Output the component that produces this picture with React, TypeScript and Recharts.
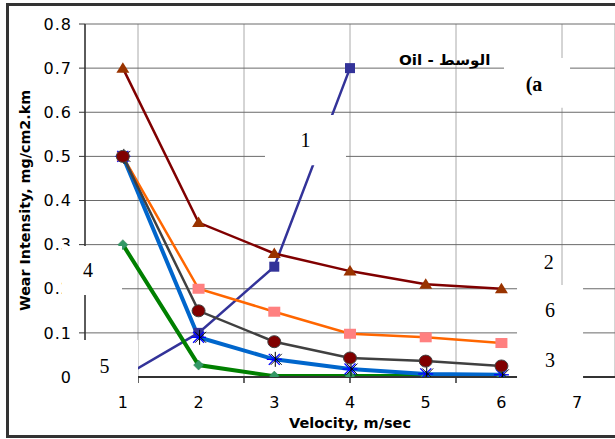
import React from 'react';
import { ComposedChart, Line, XAxis, YAxis, CartesianGrid, ReferenceArea } from 'recharts';

const velocity = [1, 2, 3, 4, 5, 6];
const purpleSeries = [0, 0.1, 0.25, 0.7, null, null];
const darkRedSeries = [0.7, 0.35, 0.28, 0.24, 0.21, 0.2];
const orangeSeries = [0.5, 0.2, 0.148, 0.098, 0.09, 0.077];
const greenSeries = [0.3, 0.027, 0.002, 0.002, 0.002, 0.002];
const blueSeries = [0.5, 0.09, 0.04, 0.018, 0.007, 0.005];
const graySeries = [0.5, 0.15, 0.08, 0.043, 0.036, 0.025];

const xLabelTicks = [1, 2, 3, 4, 5, 6, 7];
const xGridTicks = [0.5, 1.5, 2.5, 3.5, 4.5, 5.5, 6.5, 7.5];
const yTicks = [0, 0.1, 0.2, 0.3, 0.4, 0.5, 0.6, 0.7, 0.8];

const data = velocity.map((x, i) => ({
  x,
  purple: purpleSeries[i],
  darkred: darkRedSeries[i],
  orange: orangeSeries[i],
  green: greenSeries[i],
  blue: blueSeries[i],
  gray: graySeries[i],
}));

const SANS = 'DejaVu Sans';
const SERIF = 'Liberation Serif';

const ok = (p: any) => p && p.cx != null && p.cy != null && !isNaN(p.cx) && !isNaN(p.cy);

const squareDot = (fill: string, w: number, h: number) => (p: any) =>
  ok(p) ? <rect key={`s${p.index}`} x={p.cx - w / 2} y={p.cy - h / 2} width={w} height={h} fill={fill} /> : <g key={`e${p.index}`} />;

const triDot = (p: any) =>
  ok(p) ? (
    <polygon key={`t${p.index}`} points={`${p.cx},${p.cy - 6} ${p.cx - 6.5},${p.cy + 4.5} ${p.cx + 6.5},${p.cy + 4.5}`} fill="#993300" />
  ) : <g key={`e${p.index}`} />;

const circleDot = (p: any) =>
  ok(p) ? <ellipse key={`c${p.index}`} cx={p.cx} cy={p.cy} rx={6.5} ry={6} fill="#800000" stroke="#404040" strokeWidth={1} /> : <g key={`e${p.index}`} />;

const diamondDot = (p: any) =>
  ok(p) ? (
    <polygon key={`d${p.index}`} points={`${p.cx},${p.cy - 5} ${p.cx + 5},${p.cy} ${p.cx},${p.cy + 5} ${p.cx - 5},${p.cy}`} fill="#339966" stroke="#2a7a50" strokeWidth={0.5} />
  ) : <g key={`e${p.index}`} />;

const starDot = (p: any) => {
  if (!ok(p)) return <g key={`e${p.index}`} />;
  const { cx, cy } = p;
  const r = 7.5;
  const d = 5.5;
  return (
    <g key={`a${p.index}`}>
      <line x1={cx - d} y1={cy - d} x2={cx + d} y2={cy + d} stroke="#0000ff" strokeWidth={1.3} />
      <line x1={cx - d} y1={cy + d} x2={cx + d} y2={cy - d} stroke="#0000ff" strokeWidth={1.3} />
      <line x1={cx - r} y1={cy} x2={cx + r} y2={cy} stroke="#0000ff" strokeWidth={1.3} />
      <line x1={cx + 1} y1={cy - r} x2={cx + 1} y2={cy + r} stroke="#000" strokeWidth={1} />
      <line x1={cx - d + 2} y1={cy - d} x2={cx + d + 2} y2={cy + d} stroke="#000" strokeWidth={0.9} />
      <line x1={cx - d + 2} y1={cy + d} x2={cx + d + 2} y2={cy - d} stroke="#000" strokeWidth={0.9} />
    </g>
  );
};

const emptyTick = (p: any) => <g key={`gt${p.index}`} />;

const boxText = (text: string, opts: { font?: string; size?: number; bold?: boolean; dx?: number; dy?: number; sx?: number } = {}) => (props: any) => {
  const vb = props.viewBox || { x: 0, y: 0, width: 0, height: 0 };
  const cx = vb.x + vb.width / 2 + (opts.dx || 0);
  const cy = vb.y + vb.height / 2 + (opts.dy || 0);
  return (
    <g transform={`translate(${cx},${cy}) scale(${opts.sx || 1},1)`}>
      <text
        x={0}
        y={0}
        textAnchor="middle"
        dominantBaseline="central"
        fontFamily={opts.font || SERIF}
        fontSize={opts.size || 20}
        fontWeight={opts.bold ? 'bold' : 'normal'}
        fill="#000"
      >
        {text}
      </text>
    </g>
  );
};

const yTitle = (props: any) => {
  const vb = props.viewBox || { x: 0, y: 0, width: 0, height: 0 };
  const x = vb.x + 25;
  const y = vb.y + vb.height / 2;
  return (
    <text x={x} y={y} transform={`rotate(-90, ${x}, ${y})`} textAnchor="middle" dominantBaseline="central" fontFamily={SANS} fontWeight="bold" fontSize={14.3} fill="#000">
      Wear Intensity, mg/cm2.km
    </text>
  );
};

export default function App() {
  return (
    <div style={{ position: 'relative', width: 615, height: 439, overflow: 'hidden', background: '#fff' }}>
      <style>{'body{margin:0;}'}</style>
      <ComposedChart width={615} height={439} data={data} margin={{ top: 24, right: 0, bottom: 0, left: 0 }}>
        <CartesianGrid xAxisId="grid" horizontal={false} vertical={true} stroke="#aaaaaa" strokeWidth={1} />
        <CartesianGrid xAxisId="grid" horizontal={true} vertical={false} stroke="#6a6a6a" strokeWidth={1} />
        <XAxis
          xAxisId="grid"
          type="number"
          domain={[0.5, 7.5]}
          ticks={xGridTicks}
          interval={0}
          allowDataOverflow
          tick={emptyTick}
          tickSize={6}
          tickLine={{ stroke: '#333', strokeWidth: 1.5 }}
          axisLine={{ stroke: '#333', strokeWidth: 2 }}
          height={2}
        />
        <XAxis
          xAxisId="main"
          dataKey="x"
          type="number"
          domain={[0.5, 7.5]}
          ticks={xLabelTicks}
          interval={0}
          allowDataOverflow
          axisLine={false}
          tickLine={false}
          tickSize={0}
          tickMargin={18}
          height={60}
          tick={{ fontFamily: SANS, fontSize: 16, fill: '#000' }}
          label={{ content: boxText('Velocity, m/sec', { font: SANS, size: 14.5, bold: true, dy: 14 }) }}
        />
        <YAxis
          type="number"
          domain={[0, 0.8]}
          ticks={yTicks}
          interval={0}
          allowDataOverflow
          width={85}
          tickSize={6}
          tickMargin={7}
          tickLine={{ stroke: '#333' }}
          axisLine={{ stroke: '#333', strokeWidth: 1.5 }}
          tick={{ fontFamily: SANS, fontSize: 16, fill: '#000', letterSpacing: 1 }}
          tickFormatter={(v: number) => (v === 0 ? '0' : v.toFixed(1))}
          label={{ content: yTitle }}
        />
        <Line xAxisId="main" dataKey="purple" stroke="#333399" strokeWidth={2.5} dot={squareDot('#333399', 10, 10)} isAnimationActive={false} connectNulls={false} />
        <Line xAxisId="main" dataKey="darkred" stroke="#800000" strokeWidth={2.5} dot={triDot} isAnimationActive={false} />
        <Line xAxisId="main" dataKey="orange" stroke="#ff6600" strokeWidth={2.5} dot={squareDot('#ff8080', 12, 10)} isAnimationActive={false} />
        <Line xAxisId="main" dataKey="green" stroke="#008000" strokeWidth={4} dot={diamondDot} isAnimationActive={false} />
        <Line xAxisId="main" dataKey="blue" stroke="#0066cc" strokeWidth={4} dot={starDot} isAnimationActive={false} />
        <Line xAxisId="main" dataKey="gray" stroke="#404040" strokeWidth={2.5} dot={circleDot} isAnimationActive={false} />

        <ReferenceArea xAxisId="main" x1={2.877} x2={3.947} y1={0.48} y2={0.594} fill="#fff" fillOpacity={1} stroke="none" ifOverflow="visible" zIndex={3000} label={{ content: boxText('1') }} />
        <ReferenceArea xAxisId="main" x1={6.034} x2={6.906} y1={0.61} y2={0.723} fill="#fff" fillOpacity={1} stroke="none" ifOverflow="visible" zIndex={3000} label={{ content: boxText('(a', { bold: true, size: 20, dx: -3, dy: 1 }) }} />
        <ReferenceArea xAxisId="main" x1={0.196} x2={0.989} y1={0.186} y2={0.297} fill="#fff" fillOpacity={1} stroke="none" ifOverflow="visible" zIndex={3000} label={{ content: boxText('4', { dx: -4 }) }} />
        <ReferenceArea xAxisId="main" x1={0.368} x2={1.2} y1={-0.034} y2={0.084} fill="#fff" fillOpacity={1} stroke="none" ifOverflow="visible" zIndex={3000} label={{ content: boxText('5', { dx: -2 }) }} />
        <ReferenceArea xAxisId="main" x1={6.206} x2={7.078} y1={0.0952} y2={0.2085} fill="#fff" fillOpacity={1} stroke="none" ifOverflow="visible" zIndex={3000} label={{ content: boxText('6') }} />
        <ReferenceArea xAxisId="main" x1={6.206} x2={7.078} y1={-0.018} y2={0.0952} fill="#fff" fillOpacity={1} stroke="none" ifOverflow="visible" zIndex={3000} label={{ content: boxText('3') }} />
        <ReferenceArea xAxisId="main" x1={6.35} x2={6.9} y1={0.23} y2={0.29} fill="none" fillOpacity={0} stroke="none" ifOverflow="visible" zIndex={3000} label={{ content: boxText('2') }} />
        <ReferenceArea xAxisId="main" x1={4.8} x2={5.7} y1={0.7} y2={0.736} fill="none" fillOpacity={0} stroke="none" ifOverflow="visible" zIndex={3000} label={{ content: boxText('Oil - الوسط', { font: SANS, size: 14, bold: true, sx: 1.08 }) }} />
      </ComposedChart>
      <div
        style={{
          position: 'absolute',
          left: 6,
          top: 3,
          width: 700,
          height: 435,
          boxSizing: 'border-box',
          border: '3px solid #333',
          pointerEvents: 'none',
        }}
      />
    </div>
  );
}
